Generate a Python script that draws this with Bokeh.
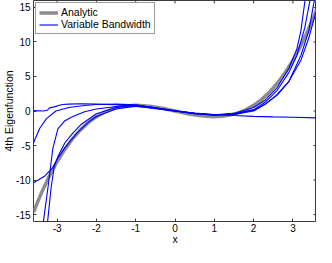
import math
from bokeh.plotting import figure
from bokeh.models import Range1d, FixedTicker, PrintfTickFormatter, Legend, LegendItem
from bokeh.embed import file_html
from bokeh.resources import INLINE

# ---- data ----
x_ticks = [-3, -2, -1, 0, 1, 2, 3]
y_ticks = [-15, -10, -5, 0, 5, 10, 15]
x_lim = [-3.6, 3.6]
y_lim = [-16, 16]

analytic_x = [-3.6, -3.4, -3.2, -3.0, -2.8, -2.6, -2.4, -2.2, -2.0, -1.8, -1.6, -1.4, -1.2, -1.0,
              -0.8, -0.6, -0.4, -0.2, 0.0, 0.2, 0.4, 0.6, 0.8, 1.0, 1.2, 1.4, 1.6, 1.8, 2.0,
              2.2, 2.4, 2.6, 2.8, 3.0, 3.2, 3.4, 3.6]
analytic_y = [-14.64, -11.88, -9.46, -7.35, -5.53, -3.99, -2.70, -1.65, -0.82, -0.18, 0.29, 0.59,
              0.76, 0.82, 0.77, 0.65, 0.46, 0.24, 0.0, -0.24, -0.46, -0.65, -0.77, -0.82, -0.76,
              -0.59, -0.29, 0.18, 0.82, 1.65, 2.70, 3.99, 5.53, 7.35, 9.46, 11.88, 14.64]

vb1_x = [-3.6, -3.44, -3.27, -3.03, -2.7, -2.3, -2.0, -1.5, -1.0, -0.5, 0.0, 0.5, 1.0, 1.5, 2.0,
         2.3, 2.6, 2.9, 3.2, 3.4, 3.6]
vb1_y = [-4.6, -2.5, -1.1, 0.0, 0.5, 0.8, 0.95, 1.0, 0.9, 0.45, 0.0, -0.35, -0.55, -0.45, 0.1,
         1.0, 2.4, 4.3, 7.3, 10.5, 14.6]

vb2_x = [-3.6, -3.31, -3.11, -2.99, -2.8, -2.5, -2.2, -2.0, -1.5, -1.0, -0.5, 0.0, 0.5, 1.0, 1.5,
         2.0, 2.3, 2.6, 2.9, 3.1, 3.3, 3.45]
vb2_y = [-10.4, -9.4, -8.2, -6.9, -5.3, -3.2, -1.6, -0.8, 0.3, 0.7, 0.45, 0.05, -0.35, -0.6, -0.45,
         0.2, 1.3, 3.0, 5.6, 8.0, 12.0, 16.5]

vb3_x = [-3.36, -3.23, -3.11, -2.98, -2.8, -2.6, -2.3, -2.0, -1.5, -1.0, -0.5, 0.0, 0.5, 1.0, 1.5,
         2.0, 2.3, 2.6, 2.9, 3.1, 3.2, 3.32]
vb3_y = [-16.5, -11.0, -5.5, -2.6, -1.4, -0.8, -0.1, 0.3, 0.65, 0.8, 0.4, 0.0, -0.4, -0.55, -0.35,
         0.5, 1.6, 3.4, 6.2, 9.0, 11.5, 16.5]

vb4_x = [-3.25, -3.15, -3.07, -2.98, -2.8, -2.6, -2.4, -2.0, -1.5, -1.0, -0.5, 0.0, 0.5, 1.0, 1.5,
         2.0, 2.3, 2.6, 2.9, 3.2, 3.4, 3.56]
vb4_y = [-16.5, -11.0, -8.0, -6.6, -4.6, -3.2, -2.0, -0.4, 0.5, 0.85, 0.45, 0.0, -0.4, -0.6, -0.5,
         0.0, 1.0, 2.3, 4.3, 8.0, 11.5, 16.5]

vb5_x = [-3.6, -3.35, -3.25, -3.19, -3.07, -2.87, -2.7, -2.4, -2.0, -1.5, -1.0, -0.5, 0.0, 0.5,
         1.0, 1.5, 2.0, 2.5, 3.0, 3.6]
vb5_y = [0.05, 0.0, 0.1, 0.45, 0.6, 0.95, 1.0, 1.05, 1.0, 0.9, 0.7, 0.35, 0.0, -0.3, -0.5,
         -0.65, -0.78, -0.85, -0.9, -1.0]

FONT = "Liberation Sans"
AX = "#3a3a3a"

p = figure(width=316, height=247, output_backend="svg", toolbar_location=None,
           x_range=Range1d(*x_lim), y_range=Range1d(*y_lim), min_border=0,
           min_border_left=26, min_border_right=0, min_border_top=0, min_border_bottom=20,
           x_axis_label="x", y_axis_label="4th Eigenfunction")
p.grid.visible = False
p.outline_line_color = AX
p.outline_line_width = 1
p.background_fill_color = "white"
p.border_fill_color = "white"

for ax in (p.xaxis[0], p.yaxis[0]):
    ax.axis_line_color = None
    ax.major_tick_in = 3
    ax.major_tick_out = 0
    ax.minor_tick_line_color = None
    ax.major_tick_line_color = AX
    ax.major_label_text_font = FONT
    ax.major_label_text_font_size = "10px"
    ax.major_label_text_color = "black"
    ax.axis_label_text_font = FONT
    ax.axis_label_text_font_size = "10.5px"
    ax.axis_label_text_font_style = "normal"
    ax.axis_label_text_color = "black"
    ax.formatter = PrintfTickFormatter(format="%d")

p.xaxis[0].ticker = FixedTicker(ticks=x_ticks)
p.yaxis[0].ticker = FixedTicker(ticks=y_ticks)
p.xaxis[0].major_label_standoff = 2
p.xaxis[0].axis_label_standoff = -2
p.yaxis[0].major_label_standoff = 3
p.yaxis[0].axis_label_standoff = -2

# tick marks on the top and right edges of the box (MATLAB style)
p.scatter(x=x_ticks, y=[y_lim[1]] * len(x_ticks), marker="dash", angle=math.pi / 2,
          size=6, line_color=AX, line_width=1)
p.scatter(x=[x_lim[1]] * len(y_ticks), y=y_ticks, marker="dash",
          size=6, line_color=AX, line_width=1)

g = p.line(analytic_x, analytic_y, line_color="#8c8c8c", line_width=3.5)
blues = []
for xs, ys in [(vb1_x, vb1_y), (vb2_x, vb2_y), (vb3_x, vb3_y), (vb4_x, vb4_y), (vb5_x, vb5_y)]:
    blues.append(p.line(xs, ys, line_color="#0000ff", line_width=1.1))

legend = Legend(items=[LegendItem(label="Analytic", renderers=[g]),
                       LegendItem(label="Variable Bandwidth", renderers=[blues[0]])],
                location="top_left")
legend.margin = 2
legend.padding = 3
legend.spacing = 0
legend.glyph_width = 19
legend.glyph_height = 11
legend.label_height = 11
legend.label_standoff = 3
legend.border_line_color = AX
legend.border_line_width = 1
legend.label_text_font = FONT
legend.label_text_font_size = "10.5px"
legend.label_text_color = "black"
legend.background_fill_alpha = 1
p.add_layout(legend)

open("out.html", "w").write(file_html(p, INLINE))
